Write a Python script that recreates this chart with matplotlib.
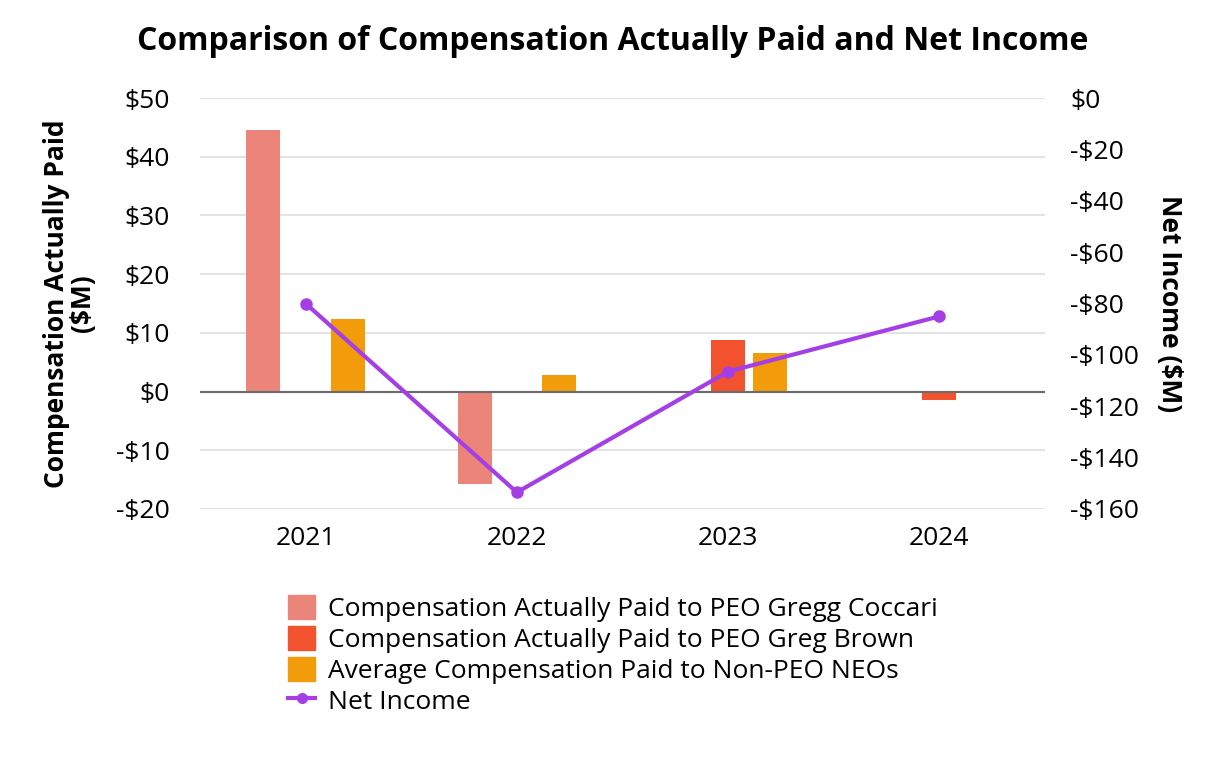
import matplotlib
matplotlib.use("Agg")
from matplotlib import pyplot as plt
from matplotlib.patches import Patch
from matplotlib.lines import Line2D
import numpy as np

plt.rcParams['font.family'] = ['Open Sans', 'DejaVu Sans']

# 데이터
years = ["2021", "2022", "2023", "2024"]
cap_coccari = [44.5, -15.7, np.nan, np.nan]
cap_brown = [np.nan, np.nan, 8.7, -1.4]
avg_non_peo = [12.4, 2.9, 6.6, np.nan]
net_income = [-80, -153.5, -106.5, -85]

c_coccari = "#EC8579"
c_brown = "#F2532E"
c_nonpeo = "#F39C0B"
c_net = "#A43FE6"

fig = plt.figure(figsize=(12.26, 7.6), dpi=100)
ax = fig.add_axes([200/1226, 1-509/760, 845/1226, 411/760])
ax2 = ax.twinx()

x = np.arange(len(years))
w = 0.16
off = 0.2

ax.bar(x - off, cap_coccari, w, color=c_coccari, zorder=3)
ax.bar(x, cap_brown, w, color=c_brown, zorder=3)
ax.bar(x + off, avg_non_peo, w, color=c_nonpeo, zorder=3)

ax.set_ylim(-20, 50)
ax.set_yticks(range(-20, 51, 10))
ax.set_yticklabels([("-$" + str(-v)) if v < 0 else ("$" + str(v)) for v in range(-20, 51, 10)])
ax.set_xlim(-0.5, 3.5)
ax.set_xticks(x)
ax.set_xticklabels(years)
ax.grid(axis='y', color="#e3e3e3", linewidth=1.5, zorder=0)
ax.axhline(0, color="#6b6b6b", linewidth=1.5, zorder=4)
for s in ax.spines.values():
    s.set_visible(False)
for s in ax2.spines.values():
    s.set_visible(False)
ax.tick_params(axis='both', length=0, labelsize=19, pad=12)
ax.tick_params(axis='y', pad=22)
ax.set_ylabel("Compensation Actually Paid\n($M)", fontsize=19, fontweight='bold', linespacing=0.95, labelpad=14)

ax2.plot(x, net_income, color=c_net, linewidth=3, marker='o', markersize=8, zorder=5)
ax2.set_ylim(-160, 0)
ax2.set_yticks(range(-160, 1, 20))
ax2.set_yticklabels([("-$" + str(-v)) if v < 0 else ("$" + str(v)) for v in range(-160, 1, 20)])
ax2.tick_params(axis='y', length=0, labelsize=19, pad=18)
ax2.set_ylabel("Net Income ($M)", fontsize=19, fontweight='bold', rotation=270, labelpad=12, va='bottom')

ax.set_zorder(ax2.get_zorder() - 1)
ax2.patch.set_visible(False)

fig.suptitle("Comparison of Compensation Actually Paid and Net Income", fontsize=23, fontweight='bold', y=1-42/760, va='center')

handles = [
    Patch(color=c_coccari),
    Patch(color=c_brown),
    Patch(color=c_nonpeo),
    Line2D([0], [0], color=c_net, linewidth=3, marker='o', markersize=7),
]
labels = [
    "Compensation Actually Paid to PEO Gregg Coccari",
    "Compensation Actually Paid to PEO Greg Brown",
    "Average Compensation Paid to Non-PEO NEOs",
    "Net Income",
]
fig.legend(handles, labels, loc='center', bbox_to_anchor=(0.5, 1-655/760), frameon=False,
           fontsize=19, handlelength=1.0, handleheight=1.0, labelspacing=0.15, handletextpad=0.5)

fig.savefig("out.png", dpi=100)
